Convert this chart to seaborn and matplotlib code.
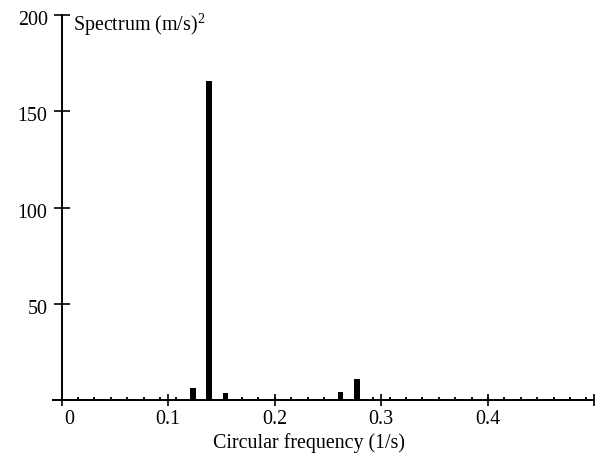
import numpy as np
import pandas as pd
import matplotlib
matplotlib.use("Agg")
import matplotlib.pyplot as plt
import matplotlib.transforms as mtrans
import seaborn as sns

# frequency grid step (1/s) and spectrum values
d_omega = 0.0154
k = list(range(1, 33))
spectrum = [0, 0, 0, 0, 0, 0, 0.3, 6.2, 165.6, 3.8,
            0.4, 0.3, 0, 0, 0, 0.3, 3.9, 10.7, 0.4, 0,
            0, 0, 0, 0, 0, 0, 0, 0, 0, 0,
            0, 0]
xticks = [0, 0.1, 0.2, 0.3, 0.4, 0.5]
xtick_labels = ["0", "0.1", "0.2", "0.3", "0.4", ""]
yticks = [50, 100, 150, 200]

df = pd.DataFrame({"freq": [i * d_omega for i in k], "spec": spectrum})

sns.set_theme(style="ticks")
plt.rcParams["font.family"] = ["Liberation Serif", "DejaVu Serif"]
plt.rcParams["mathtext.fontset"] = "custom"
plt.rcParams["mathtext.rm"] = "Liberation Serif"

fig = plt.figure(figsize=(5.95, 4.55), dpi=100)
ax = fig.add_axes([53 / 595, 55 / 455, 541 / 595, 385 / 455])

sns.barplot(data=df, x="freq", y="spec", native_scale=True, width=0.34,
            color="black", errorbar=None, ax=ax, linewidth=0)

ax.set_xlim(-0.008, 0.5)
ax.set_ylim(0, 200)

for s in ["top", "right"]:
    ax.spines[s].set_visible(False)
ax.spines["left"].set_position(("data", 0))
for s in ["left", "bottom"]:
    ax.spines[s].set_linewidth(1.4)
    ax.spines[s].set_color("black")

ax.set_xticks(xticks)
ax.set_xticklabels(xtick_labels)
ax.set_xticks(df["freq"], minor=True)
ax.set_yticks(yticks)
ax.set_yticklabels([str(v) for v in yticks])

ax.tick_params(axis="x", which="major", direction="inout", length=8, width=1.2,
               color="black", labelsize=14.4, pad=3, labelcolor="black",
               bottom=True)
ax.tick_params(axis="x", which="minor", direction="in", length=2, width=1.3,
               color="black", bottom=True)
ax.tick_params(axis="y", which="major", direction="inout", length=12, width=1.2,
               color="black", labelsize=14.4, pad=4, labelcolor="black",
               left=True)
ax.tick_params(axis="y", which="minor", left=False)

# nudge the "0" label off the y axis
lab0 = ax.get_xticklabels()[0]
lab0.set_transform(lab0.get_transform() +
                   mtrans.ScaledTranslation(8 / 100, 0, fig.dpi_scale_trans))
# tick labels on y sit a little below their ticks
for lab in ax.get_yticklabels():
    lab.set_transform(lab.get_transform() +
                      mtrans.ScaledTranslation(0, -3 / 100, fig.dpi_scale_trans))

ax.set_xlabel("Circular frequency (1/s)", fontsize=14.4, color="black")
ax.xaxis.set_label_coords(0.473, -0.085)
ax.set_ylabel("")

fig.text(73 / 595, 1 - 31 / 455, r"Spectrum (m/s)$^2$", fontsize=14.4,
         va="baseline", ha="left", color="black")

fig.savefig("out.png", dpi=100)
